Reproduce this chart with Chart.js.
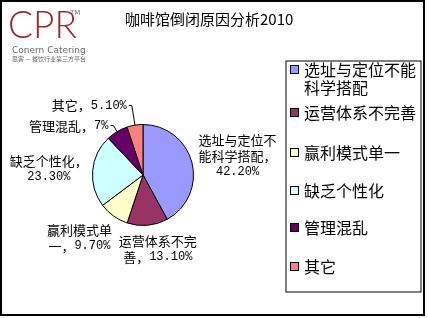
<!DOCTYPE html>
<html>
<head>
<meta charset="utf-8">
<script src="https://cdn.jsdelivr.net/npm/chart.js@4.4.1/dist/chart.umd.min.js"></script>
<style>
  html, body { margin: 0; padding: 0; background: #fff; }
  #wrap { width: 428px; height: 318px; position: relative; }
</style>
</head>
<body>
<div id="wrap"><canvas id="pieCanvas" width="428" height="318"></canvas></div>
<script>
//Chart content
const chartTitle = '咖啡馆倒闭原因分析2010'
const causeNames = ['选址与定位不能科学搭配', '运营体系不完善', '赢利模式单一', '缺乏个性化', '管理混乱', '其它']
const causeShares = [42.2, 13.1, 9.7, 23.3, 7, 5.1]
const shareLabels = ['42.20%', '13.10%', '9.70%', '23.30%', '7%', '5.10%']
const causeColors = ['#9999FF', '#993366', '#FFFFCC', '#CCFFFF', '#660066', '#FF8080']

//How the slice labels are broken into lines
const labelLines = [
    ['选址与定位不', '能科学搭配，', shareLabels[0]],
    ['运营体系不完', '善，' + shareLabels[1]],
    ['赢利模式单', '一，' + shareLabels[2]],
    ['缺乏个性化，', shareLabels[3]],
    ['管理混乱，' + shareLabels[4]],
    ['其它，' + shareLabels[5]]
]
const legendLines = [['选址与定位不能', '科学搭配'], ['运营体系不完善'], ['赢利模式单一'], ['缺乏个性化'], ['管理混乱'], ['其它']]

//label placement: distance outside the rim, nudge, alignment, leader line
const labelStyle = [
    {dist: 44, dx: 3, dy: 4, align: 'center', leader: false},
    {dist: 24, dx: 8, dy: 0, align: 'center', leader: false},
    {dist: 38, dx: -12, dy: -9, align: 'center', leader: false},
    {dist: 44, dx: 0, dy: 2, align: 'center', leader: false},
    {dist: 7, dx: 0, dy: 0, align: 'right', leader: true},
    {dist: 20, dx: 0, dy: 0, align: 'right', leader: true}
]

const cjkFont = '"Noto Sans CJK SC", "DejaVu Sans", sans-serif'
const asciiFont = '12px "Liberation Mono", monospace'
const hanFont = '13px ' + cjkFont

//draws a line that mixes CJK text and half-width digits
function drawMixed(ctx, text, x, y, align)
{
    const runs = text.match(/[\x20-\x7e]+|[^\x20-\x7e]+/g) || []
    const parts = runs.map(t => {
        ctx.font = /^[\x20-\x7e]/.test(t) ? asciiFont : hanFont
        return {t: t, font: ctx.font, w: ctx.measureText(t).width}
    })
    const total = parts.reduce((s, p) => s + p.w, 0)
    let cx = align === 'right' ? x - total : align === 'center' ? x - total / 2 : x
    ctx.textAlign = 'left'
    parts.forEach(p => {
        ctx.font = p.font
        ctx.fillText(p.t, cx, y)
        cx += p.w
    })
}

const decorPlugin = {
    id: 'decor',
    afterDraw(chart) {
        const ctx = chart.ctx
        ctx.save()

        //outer frame
        ctx.strokeStyle = '#000'
        ctx.lineWidth = 2
        ctx.strokeRect(1, 1, 423, 314)

        //logo
        ctx.fillStyle = '#9a2626'
        ctx.font = '300 37px Lato, "DejaVu Sans", sans-serif'
        ctx.textBaseline = 'alphabetic'
        ctx.textAlign = 'left'
        ctx.fillText('CPR', 8, 38)
        ctx.fillStyle = '#777'
        ctx.font = '7px "DejaVu Sans", sans-serif'
        ctx.fillText('TM', 70, 15)
        ctx.font = '9px "DejaVu Sans", sans-serif'
        ctx.fillStyle = '#666'
        ctx.fillText('Conern Catering', 12, 53)
        ctx.font = '6px ' + cjkFont
        ctx.fillText('思客 — 餐饮行业第三方平台', 12, 61)

        //title
        ctx.fillStyle = '#000'
        ctx.font = '15px ' + cjkFont
        ctx.textAlign = 'left'
        ctx.textBaseline = 'middle'
        ctx.fillText(chartTitle, 125, 19)

        //slice labels
        const arcs = chart.getDatasetMeta(0).data
        ctx.lineWidth = 1
        arcs.forEach((arc, i) => {
            const st = labelStyle[i]
            const mid = (arc.startAngle + arc.endAngle) / 2
            const r = arc.outerRadius
            const ax = arc.x + Math.cos(mid) * (r + st.dist) + st.dx
            const ay = arc.y + Math.sin(mid) * (r + st.dist) + st.dy
            const lines = labelLines[i]
            let tx = ax
            if (st.leader) {
                const ex = arc.x + Math.cos(mid) * r
                const ey = arc.y + Math.sin(mid) * r
                ctx.beginPath()
                ctx.moveTo(ex, ey)
                ctx.lineTo(ax, ay)
                ctx.lineTo(ax - 3, ay)
                ctx.stroke()
                tx = ax - 5
            }
            const lh = 16
            const y0 = ay - (lines.length - 1) * lh / 2
            lines.forEach((t, k) => drawMixed(ctx, t, tx, y0 + k * lh, st.align))
        })

        //legend box
        ctx.strokeRect(286, 61, 135, 231)
        const rowY = [70, 113, 153, 191, 228, 267]
        ctx.font = '16px ' + cjkFont
        ctx.textAlign = 'left'
        legendLines.forEach((lines, i) => {
            ctx.fillStyle = causeColors[i]
            ctx.fillRect(290.5, rowY[i] - 4.5, 8, 8)
            ctx.strokeStyle = '#000'
            ctx.strokeRect(290.5, rowY[i] - 4.5, 8, 8)
            ctx.fillStyle = '#000'
            lines.forEach((t, k) => ctx.fillText(t, 304, rowY[i] + k * 18))
        })
        ctx.restore()
    }
}

const pieChart = new Chart(
    document.getElementById('pieCanvas'),
    {
        type: 'pie',
        data:
        {
            labels: causeNames,
            datasets:
                [{
                    data: causeShares,
                    backgroundColor: causeColors,
                    borderColor: '#000',
                    borderWidth: 1
                }]
        },
        options:
        {
            responsive: false,
            animation: false,
            layout: {padding: {left: 92, right: 234, top: 124, bottom: 92}},
            plugins:
            {
                legend: {display: false},
                tooltip: {enabled: false},
                title: {display: false}
            }
        },
        plugins: [decorPlugin]
    }
);
</script>
</body>
</html>
